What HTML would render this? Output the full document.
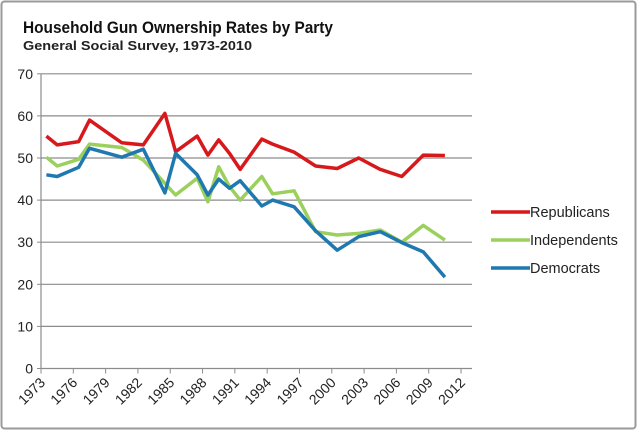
<!DOCTYPE html>
<html><head><meta charset="utf-8"><style>
body{margin:0;background:#fff;}
svg{display:block;font-family:"Liberation Sans",Arial,sans-serif;}
</style></head><body>
<svg id="chart" width="640" height="433" viewBox="0 0 640 433">
<rect x="1.5" y="1.5" width="634" height="427" rx="3" fill="#fff" stroke="#9a9a9a" stroke-width="2"/>
<text x="23" y="33" font-size="16.5" font-weight="bold" fill="#111" textLength="310" lengthAdjust="spacingAndGlyphs">Household Gun Ownership Rates by Party</text>
<text x="23" y="50" font-size="13" font-weight="bold" fill="#222" textLength="229" lengthAdjust="spacingAndGlyphs">General Social Survey, 1973-2010</text>
<g id="grid"></g>
<g id="axes"></g>
<g id="series"></g>
<g id="legend"></g>
</svg>
<script>
const years=[1973,1974,1976,1977,1980,1982,1984,1985,1987,1988,1989,1990,1991,1993,1994,1996,1998,2000,2002,2004,2006,2008,2010];
const republicans=[55.2,53.1,53.9,59,53.6,53.1,60.6,51.5,55.2,50.7,54.3,51.1,47.3,54.5,53.3,51.4,48.1,47.5,50,47.3,45.6,50.7,50.6];
const independents=[50.2,48.1,49.7,53.3,52.5,49.5,44,41.2,45.2,39.6,47.9,43.2,40,45.6,41.5,42.2,32.5,31.7,32.1,32.9,30,34,30.5];
const democrats=[46,45.6,47.8,52.3,50.2,52.1,41.7,51.1,46,41.2,45,42.8,44.6,38.6,40,38.4,32.7,28.1,31.3,32.5,29.9,27.7,21.7];
const yTicks=[0,10,20,30,40,50,60,70];
const xTicks=[1973,1976,1979,1982,1985,1988,1991,1994,1997,2000,2003,2006,2009,2012];
const seriesNames=["Republicans","Independents","Democrats"];
const seriesColors=["#d7191c","#9bd05c","#1f78b0"];
const seriesData=[republicans,independents,democrats];
const NS="http://www.w3.org/2000/svg";
const X0=41,XS=10.77,Y0=368.5,YS=4.21,XR=472;
function xs(y){return X0+(y-1973+0.5)*XS;}
function xt(y){return X0+(y-1973)*XS;}
function ys(v){return Y0-v*YS;}
function mk(t,a,p){const e=document.createElementNS(NS,t);for(const k in a)e.setAttribute(k,a[k]);p.appendChild(e);return e;}
const grid=document.getElementById('grid'),axes=document.getElementById('axes'),ser=document.getElementById('series'),leg=document.getElementById('legend');
yTicks.forEach(v=>{
 if(v>0){const l=mk('line',{x1:X0,x2:XR,y1:ys(v),y2:ys(v),stroke:'#8c8c8c','stroke-width':1.2},grid);
 
 }
 const tk=mk('line',{x1:X0-4,x2:X0,y1:ys(v),y2:ys(v),stroke:'#8c8c8c'},axes);
 
 
 const t=mk('text',{x:X0-8,y:ys(v)+5,'text-anchor':'end','font-size':14,fill:'#222'},axes);
 t.textContent=v;
 
 
});
const ya=mk('line',{x1:X0,x2:X0,y1:ys(70),y2:Y0,stroke:'#8c8c8c','stroke-width':1.2},axes);


const xa=mk('line',{x1:X0,x2:XR,y1:Y0,y2:Y0,stroke:'#8c8c8c','stroke-width':1.2},axes);


xTicks.forEach(y=>{
 const tk=mk('line',{x1:xt(y),x2:xt(y),y1:Y0,y2:Y0+5,stroke:'#8c8c8c'},axes);
 
 
 const t=mk('text',{x:xt(y)+5,y:Y0+15,'text-anchor':'end','font-size':14,fill:'#222',transform:`rotate(-45 ${xt(y)+5} ${Y0+15})`},axes);
 t.textContent=y;
 
 
});
seriesData.forEach((d,i)=>{
 const pts=d.map((v,j)=>xs(years[j]).toFixed(1)+','+ys(v).toFixed(1)).join(' ');
 const p=mk('polyline',{points:pts,fill:'none',stroke:seriesColors[i],'stroke-width':3.5,'stroke-linejoin':'round'},ser);
 
 
 const ly=212+i*28;
 const ll=mk('line',{x1:491,x2:530,y1:ly,y2:ly,stroke:seriesColors[i],'stroke-width':3.5},leg);
 
 
 const lt=mk('text',{x:530,y:ly+5,'font-size':14.5,fill:'#222'},leg);
 lt.textContent=seriesNames[i];
 
 
});
</script>
</body></html>
